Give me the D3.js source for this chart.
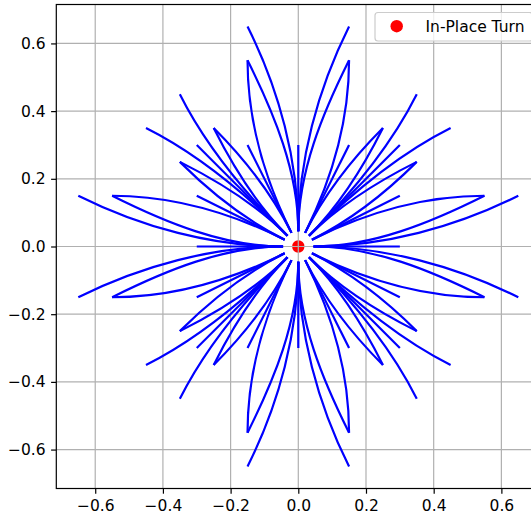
<!DOCTYPE html>
<html><head><meta charset="utf-8">
<script src="https://cdn.jsdelivr.net/npm/d3@7"></script>
<style>
body{margin:0;background:#fff}
svg{display:block}
text{font-family:"DejaVu Sans",sans-serif}
</style>
</head><body>
<svg id="chart" width="531" height="518"></svg>
<script>
// ---- data ----
// heading angles of the 16-direction lattice (degrees)
const headingsDeg = [0, 26.57, 45, 63.43, 90, 116.57, 135, 153.43, 180, 206.57, 225, 243.43, 270, 296.57, 315, 333.43];
// straight primitives: [headingIndex, endX, endY]
const straightPrims = [
  [0, 0.30, 0.00], [1, 0.30, 0.15], [2, 0.30, 0.30], [3, 0.15, 0.30],
  [4, 0.00, 0.30], [5, -0.15, 0.30], [6, -0.30, 0.30], [7, -0.30, 0.15],
  [8, -0.30, 0.00], [9, -0.30, -0.15], [10, -0.30, -0.30], [11, -0.15, -0.30],
  [12, 0.00, -0.30], [13, 0.15, -0.30], [14, 0.30, -0.30], [15, 0.30, -0.15]
];
// turning primitives: [startHeadingIndex, endX, endY, endHeadingIndex]
const turnPrims = [
  [0, 0.65, 0.15, 1], [0, 0.55, 0.15, 1], [1, 0.55, 0.15, 0], [2, 0.45, 0.35, 1], [2, 0.35, 0.25, 1], [1, 0.35, 0.25, 2],
  [0, 0.65, -0.15, 15], [0, 0.55, -0.15, 15], [15, 0.55, -0.15, 0], [14, 0.45, -0.35, 15], [14, 0.35, -0.25, 15], [15, 0.35, -0.25, 14],
  [4, 0.15, 0.65, 3], [4, 0.15, 0.55, 3], [3, 0.15, 0.55, 4], [2, 0.35, 0.45, 3], [2, 0.25, 0.35, 3], [3, 0.25, 0.35, 2],
  [4, -0.15, 0.65, 5], [4, -0.15, 0.55, 5], [5, -0.15, 0.55, 4], [6, -0.35, 0.45, 5], [6, -0.25, 0.35, 5], [5, -0.25, 0.35, 6],
  [8, -0.65, 0.15, 7], [8, -0.55, 0.15, 7], [7, -0.55, 0.15, 8], [6, -0.45, 0.35, 7], [6, -0.35, 0.25, 7], [7, -0.35, 0.25, 6],
  [8, -0.65, -0.15, 9], [8, -0.55, -0.15, 9], [9, -0.55, -0.15, 8], [10, -0.45, -0.35, 9], [10, -0.35, -0.25, 9], [9, -0.35, -0.25, 10],
  [12, -0.15, -0.65, 11], [12, -0.15, -0.55, 11], [11, -0.15, -0.55, 12], [10, -0.35, -0.45, 11], [10, -0.25, -0.35, 11], [11, -0.25, -0.35, 10],
  [12, 0.15, -0.65, 13], [12, 0.15, -0.55, 13], [13, 0.15, -0.55, 12], [14, 0.35, -0.45, 13], [14, 0.25, -0.35, 13], [13, 0.25, -0.35, 14]
];
const inPlaceTurn = [[0, 0]];
const tickValues = [-0.6, -0.4, -0.2, 0.0, 0.2, 0.4, 0.6];
const legendLabel = "In-Place Turn";
const axisDomain = [-0.715, 0.715];

// ---- layout ----
const svg = d3.select("#chart");
const x = d3.scaleLinear().domain(axisDomain).range([56.3, 540.3]);
const y = d3.scaleLinear().domain(axisDomain).range([488.5, 4.5]);
const fs = 15.5;
const startR = 0.045;

svg.append("defs").append("clipPath").attr("id", "plotclip")
  .append("rect").attr("x", x.range()[0]).attr("y", y.range()[1])
  .attr("width", x.range()[1] - x.range()[0]).attr("height", y.range()[0] - y.range()[1]);

const plot = svg.append("g").attr("clip-path", "url(#plotclip)");

// in-place turn marker (below grid, like a matplotlib scatter)
plot.selectAll("circle.ipt").data(inPlaceTurn).join("circle")
  .attr("cx", d => x(d[0])).attr("cy", d => y(d[1])).attr("r", 6.2).attr("fill", "#ff0000");

// grid
const grid = plot.append("g");
grid.selectAll("line.gx").data(tickValues).join("line")
  .attr("x1", d => x(d)).attr("x2", d => x(d)).attr("y1", y.range()[0]).attr("y2", y.range()[1])
  .attr("stroke", "#b0b0b0").attr("stroke-width", 1.2);
grid.selectAll("line.gy").data(tickValues).join("line")
  .attr("y1", d => y(d)).attr("y2", d => y(d)).attr("x1", x.range()[0]).attr("x2", x.range()[1])
  .attr("stroke", "#b0b0b0").attr("stroke-width", 1.2);

const rad = i => headingsDeg[i] * Math.PI / 180;

function straightPath(d) {
  const a = rad(d[0]);
  const p = d3.path();
  p.moveTo(x(startR * Math.cos(a)), y(startR * Math.sin(a)));
  p.lineTo(x(d[1]), y(d[2]));
  return p.toString();
}
function turnPath(d) {
  const a0 = rad(d[0]), a1 = rad(d[3]);
  const sx = startR * Math.cos(a0), sy = startR * Math.sin(a0);
  const ex = d[1], ey = d[2];
  const L = Math.hypot(ex - sx, ey - sy);
  const k = L / 3;
  const p = d3.path();
  p.moveTo(x(sx), y(sy));
  p.bezierCurveTo(
    x(sx + k * Math.cos(a0)), y(sy + k * Math.sin(a0)),
    x(ex - k * Math.cos(a1)), y(ey - k * Math.sin(a1)),
    x(ex), y(ey));
  return p.toString();
}

const lines = plot.append("g").attr("fill", "none").attr("stroke", "#0000ff")
  .attr("stroke-width", 2.2).attr("stroke-linecap", "butt");
lines.selectAll("path.s").data(straightPrims).join("path").attr("d", straightPath);
lines.selectAll("path.t").data(turnPrims).join("path").attr("d", turnPath);

// axes
const fmt = d3.format(".1f");
const xAxis = svg.append("g").attr("transform", `translate(0,${y.range()[0]})`)
  .call(d3.axisBottom(x).tickValues(tickValues).tickFormat(fmt).tickSize(5.2).tickSizeOuter(0).tickPadding(6.5));
const yAxis = svg.append("g").attr("transform", `translate(${x.range()[0]},0)`)
  .call(d3.axisLeft(y).tickValues(tickValues).tickFormat(fmt).tickSize(5.2).tickSizeOuter(0).tickPadding(5.5));
[xAxis, yAxis].forEach(g => {
  g.select(".domain").remove();
  g.selectAll(".tick line").attr("stroke", "#000").attr("stroke-width", 1.2);
  g.selectAll(".tick text").attr("fill", "#000").style("font-size", fs + "px").style("font-family", "DejaVu Sans");
});

// spines
const sp = svg.append("g").attr("stroke", "#000").attr("stroke-width", 1.2).attr("fill", "none");
sp.append("rect").attr("x", x.range()[0]).attr("y", y.range()[1])
  .attr("width", x.range()[1] - x.range()[0]).attr("height", y.range()[0] - y.range()[1]);

// legend
const lg = svg.append("g");
lg.append("rect").attr("x", 375).attr("y", 12.5).attr("width", 157.5).attr("height", 28.5).attr("rx", 3)
  .attr("fill", "#ffffff").attr("fill-opacity", 0.8).attr("stroke", "#cccccc").attr("stroke-width", 1.2);
lg.append("circle").attr("cx", 396.7).attr("cy", 26.2).attr("r", 6.2).attr("fill", "#ff0000");
lg.append("text").attr("x", 425.5).attr("y", 31.8).style("font-size", fs + "px").attr("fill", "#000").text(legendLabel);
</script>
</body></html>
